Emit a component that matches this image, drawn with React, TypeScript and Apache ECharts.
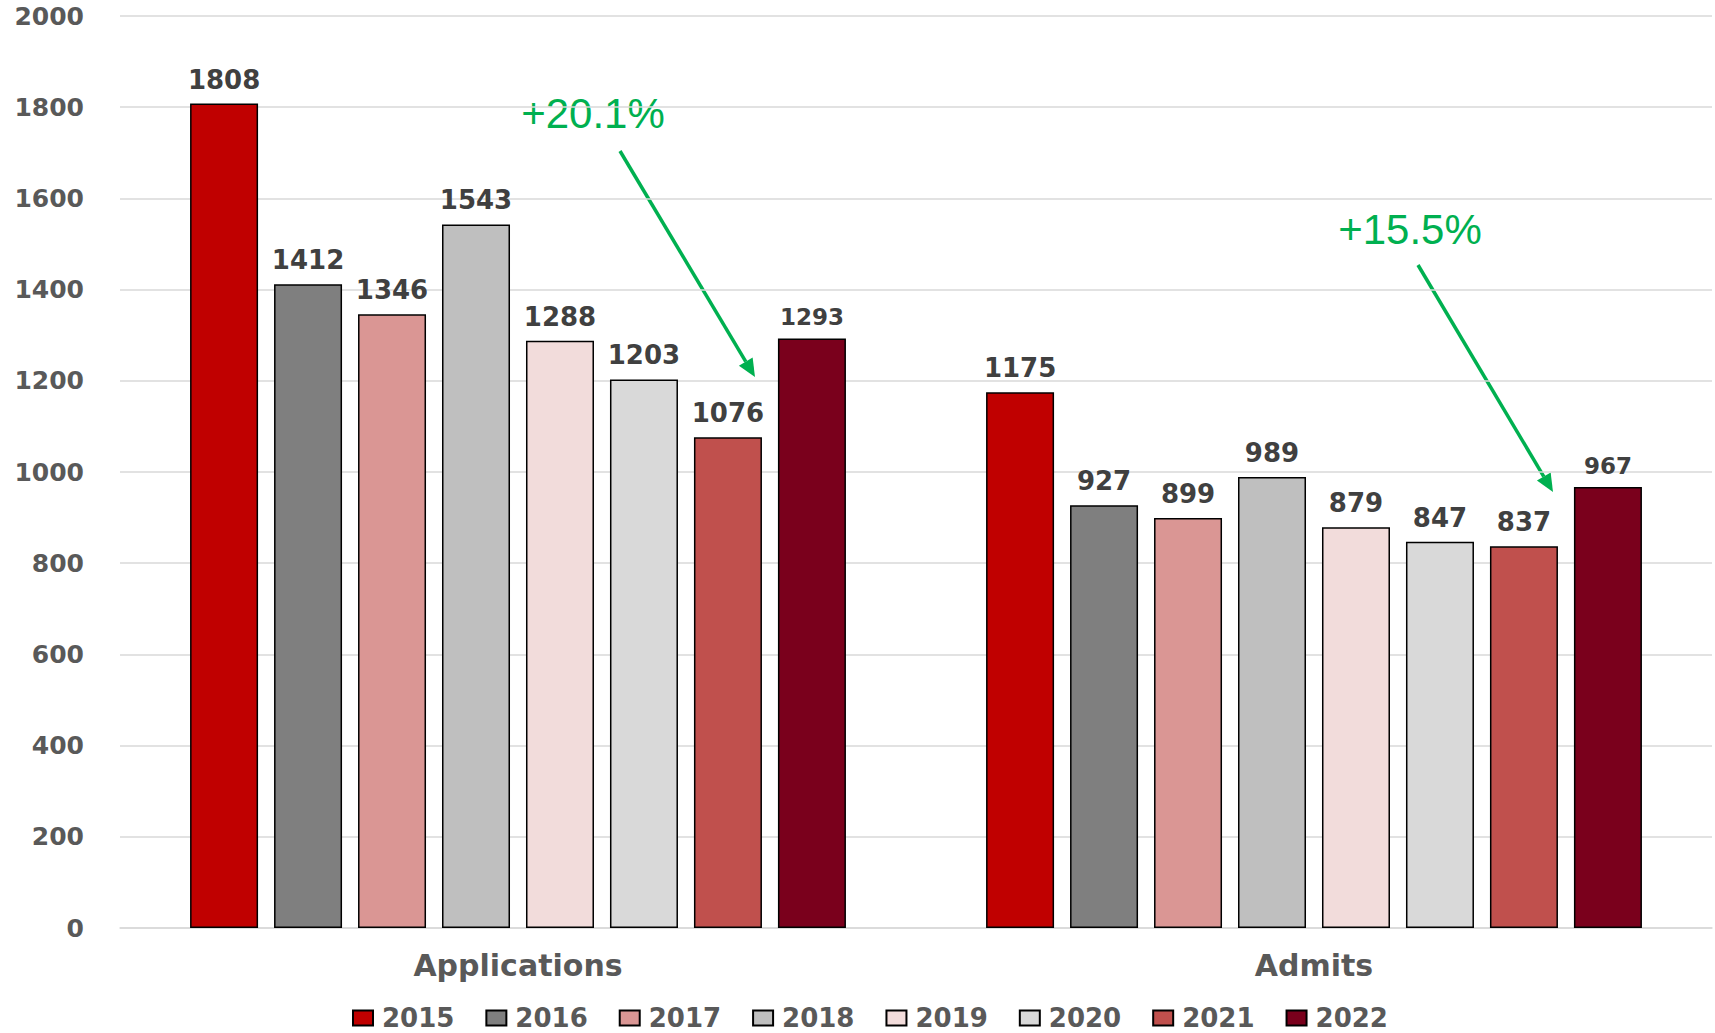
import React, { useEffect, useRef } from "react";
import * as echarts from "echarts";

const categories = ["Applications", "Admits"];
const years = ["2015", "2016", "2017", "2018", "2019", "2020", "2021", "2022"];
const applications = [1808, 1412, 1346, 1543, 1288, 1203, 1076, 1293];
const admits = [1175, 927, 899, 989, 879, 847, 837, 967];
const yTicks = [0, 200, 400, 600, 800, 1000, 1200, 1400, 1600, 1800, 2000];
const colors = ["#C00000", "#7F7F7F", "#DA9694", "#BFBFBF", "#F2DCDB", "#D9D9D9", "#C0504D", "#7A001C"];
const annotations = ["+20.1%", "+15.5%"];

export default function App() {
  const ref = useRef<HTMLDivElement>(null);
  useEffect(() => {
    document.body.style.margin = "0";
    if (!ref.current) return;
    const chart = echarts.init(ref.current, null, { renderer: "svg" });
    const green = "#00B050";
    const series = years.map((y, i) => ({
      name: y,
      type: "bar",
      barWidth: 68,
      barGap: "23.5%",
      data: [applications[i], admits[i]],
      itemStyle: { color: colors[i], borderColor: "#000000", borderWidth: 1.5 },
      label: {
        show: true,
        position: "top",
        distance: i === 7 ? 10 : 11,
        fontFamily: "DejaVu Sans",
        fontWeight: "bold",
        fontSize: i === 7 ? 23 : 26,
        color: "#404040",
      },
    }));
    const arrow = (x1: number, y1: number, x2: number, y2: number) => {
      const dx = x2 - x1, dy = y2 - y1;
      const len = Math.sqrt(dx * dx + dy * dy);
      const ux = dx / len, uy = dy / len;
      const hl = 18, hw = 8;
      const bx = x2 - ux * hl, by = y2 - uy * hl;
      return [
        { type: "line", shape: { x1, y1, x2: bx, y2: by }, style: { stroke: green, lineWidth: 3.5 } },
        {
          type: "polygon",
          shape: { points: [[x2, y2], [bx - uy * hw, by + ux * hw], [bx + uy * hw, by - ux * hw]] },
          style: { fill: green },
        },
      ];
    };
    chart.setOption({
      animation: false,
      grid: { left: 120, right: 3, top: 16, bottom: 105, containLabel: false },
      legend: {
        bottom: -3,
        left: 347,
        icon: "rect",
        itemWidth: 20,
        itemHeight: 15,
        itemGap: 31,
        textStyle: {
          fontFamily: "DejaVu Sans",
          fontWeight: "bold",
          fontSize: 26,
          color: "#595959",
          padding: [0, 0, 0, 4],
        },
        data: years,
      },
      xAxis: {
        type: "category",
        data: categories,
        axisLine: { lineStyle: { color: "#D9D9D9", width: 1.5 } },
        axisTick: { show: false },
        axisLabel: { margin: 22, fontFamily: "DejaVu Sans", fontWeight: "bold", fontSize: 30, color: "#595959" },
      },
      yAxis: {
        type: "value",
        min: yTicks[0],
        max: yTicks[yTicks.length - 1],
        interval: 200,
        axisLine: { show: false },
        axisTick: { show: false },
        splitLine: { lineStyle: { color: "#D9D9D9", width: 1.5 } },
        axisLabel: {
          margin: 36,
          formatter: (v: number) => String(v),
          fontFamily: "DejaVu Sans",
          fontWeight: "bold",
          fontSize: 25,
          color: "#595959",
        },
      },
      series,
      graphic: [
        {
          type: "text", x: 593, y: 113,
          style: { text: annotations[0], fill: green, font: "42px 'Liberation Sans'", textAlign: "center", textVerticalAlign: "middle" },
        },
        {
          type: "text", x: 1410, y: 229,
          style: { text: annotations[1], fill: green, font: "42px 'Liberation Sans'", textAlign: "center", textVerticalAlign: "middle" },
        },
        ...arrow(620, 151, 755, 377),
        ...arrow(1418, 265, 1553, 492),
      ],
    });
    return () => chart.dispose();
  }, []);
  return <div ref={ref} style={{ width: 1715, height: 1033 }} />;
}
